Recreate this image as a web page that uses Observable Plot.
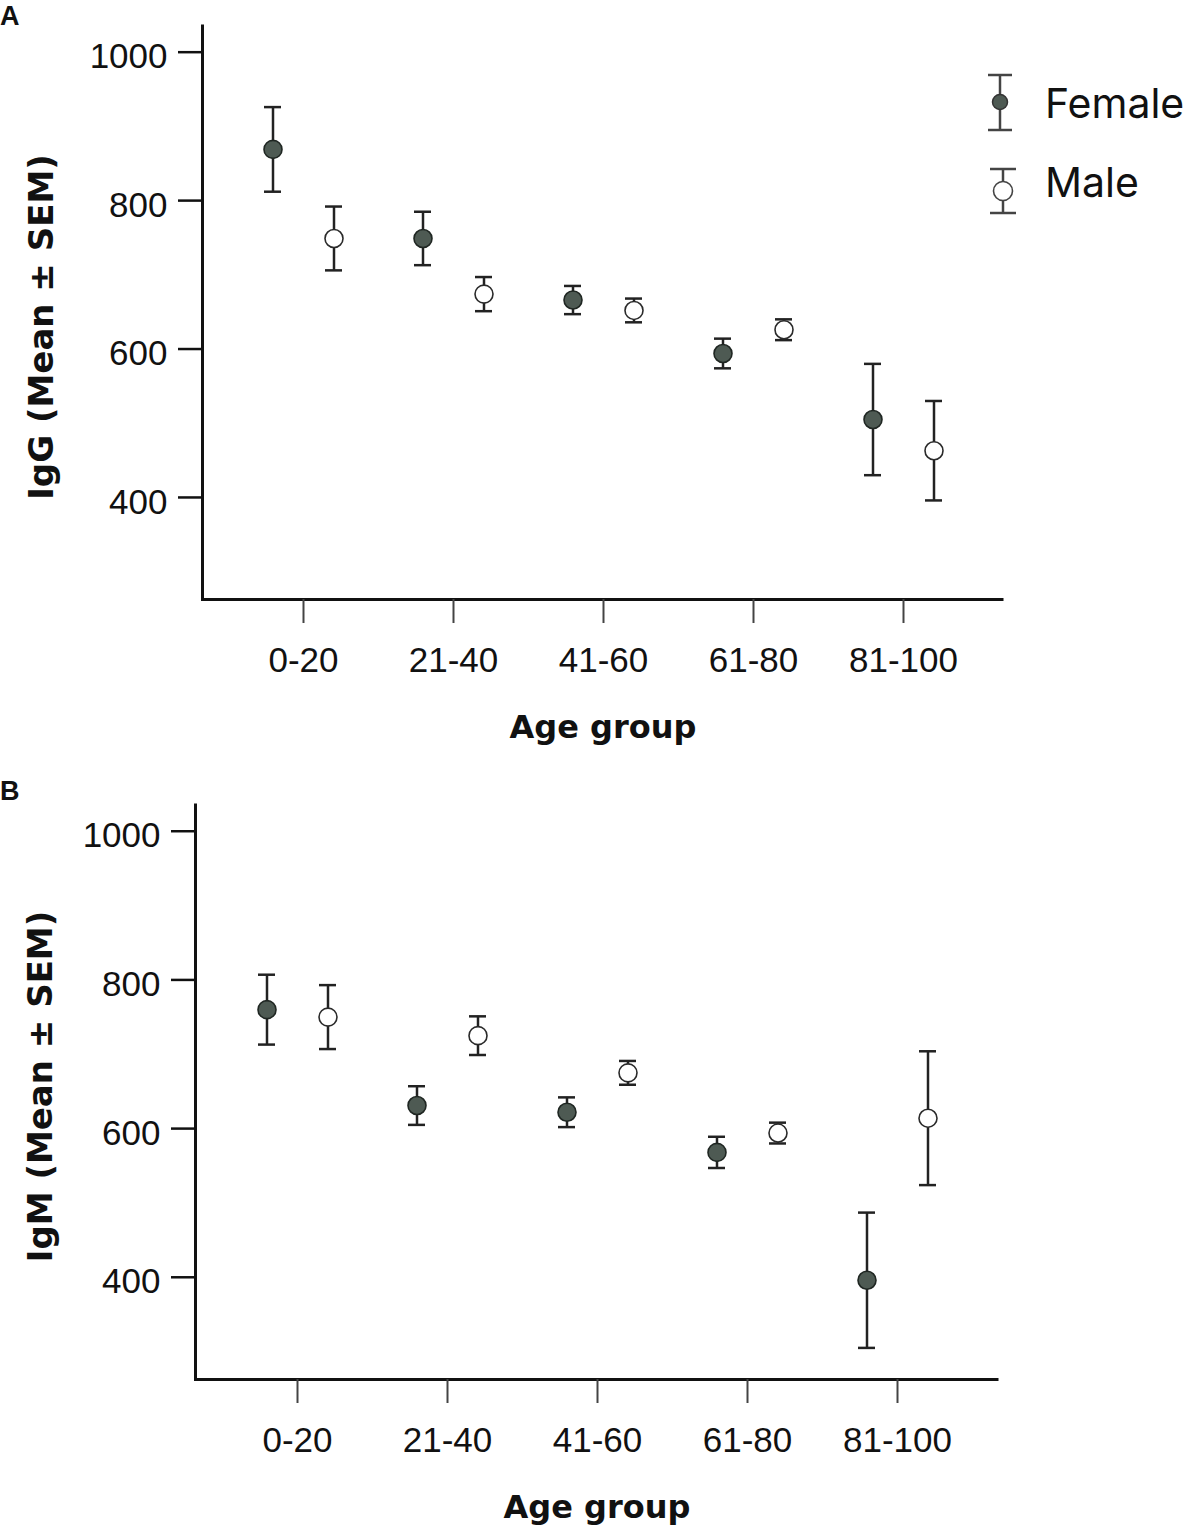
<!DOCTYPE html>
<html><head><meta charset="utf-8">
<script src="https://cdn.jsdelivr.net/npm/d3@7"></script>
<script src="https://cdn.jsdelivr.net/npm/@observablehq/plot@0.6"></script>
<style>
html,body{margin:0;padding:0;background:#fff;}
#wrap{position:relative;width:1196px;height:1534px;overflow:hidden;background:#fff;}
.panel{position:absolute;left:0;}
#overlay{position:absolute;left:0;top:0;pointer-events:none;}
</style></head>
<body><div id="wrap"></div>
<script>
// ---- data ----
const ageGroups = ["0-20", "21-40", "41-60", "61-80", "81-100"];
const sexes = ["Female", "Male"];
const yTicks = [400, 600, 800, 1000];

const iggFemaleMean = [869, 749, 666, 594, 505];
const iggFemaleSem  = [57, 36, 19, 20, 75];
const iggMaleMean   = [749, 674, 652, 626, 463];
const iggMaleSem    = [43, 23, 16, 14, 67];

const igmFemaleMean = [760, 631, 622, 568, 396];
const igmFemaleSem  = [47, 26, 20, 21, 91];
const igmMaleMean   = [750, 725, 675, 594, 614];
const igmMaleSem    = [43, 26, 16, 14, 90];

const yDomain = [262.5, 1037.3];

// ---- drawing ----
const W = 1196;
const femaleFill = "#4e5a53", femaleStroke = "#1f2622";
const maleFill = "#ffffff", maleStroke = "#2a2a2a";
const barColor = "#222";

function panel(o) {
  const rows = ageGroups.flatMap((age, i) => [
    {age, sex: sexes[0], mean: o.female[i], sem: o.femaleSem[i]},
    {age, sex: sexes[1], mean: o.male[i], sem: o.maleSem[i]}
  ]);
  const frameW = W - o.marginLeft - o.marginRight;
  const frameH = o.height - o.marginTop - o.marginBottom;
  const step = 150;
  const po = (frameW / step - ageGroups.length) / 2;
  const off = 30.5, capHalf = 8.5;
  const inset = step / 2 - capHalf;
  const marks = [];
  for (const [sex, dx, fill, stroke] of [[sexes[0], -off, femaleFill, femaleStroke], [sexes[1], off, maleFill, maleStroke]]) {
    const d = rows.filter(r => r.sex === sex);
    marks.push(Plot.ruleX(d, {x: "age", y1: r => r.mean - r.sem, y2: r => r.mean + r.sem, dx, stroke: barColor, strokeWidth: 2.5}));
    marks.push(Plot.tickY(d, {x: "age", y: r => r.mean + r.sem, dx, insetLeft: inset, insetRight: inset, stroke: barColor, strokeWidth: 2.5}));
    marks.push(Plot.tickY(d, {x: "age", y: r => r.mean - r.sem, dx, insetLeft: inset, insetRight: inset, stroke: barColor, strokeWidth: 2.5}));
    marks.push(Plot.dot(d, {x: "age", y: "mean", dx, r: 9, fill, stroke, strokeWidth: 1.6}));
  }
  const chart = Plot.plot({
    width: W,
    height: o.height,
    marginLeft: o.marginLeft,
    marginRight: o.marginRight,
    marginTop: o.marginTop,
    marginBottom: o.marginBottom,
    style: {background: "#fff", overflow: "visible", fontFamily: "'Liberation Sans', Arial, sans-serif"},
    x: {type: "band", domain: ageGroups, paddingInner: 0, paddingOuter: po, align: 0.5},
    y: {domain: yDomain},
    marks: [
      Plot.frame({stroke: "#111", strokeWidth: 3, strokeDasharray: `0 ${frameW + frameH} ${frameW + frameH + 4}`}),
      Plot.axisY({ticks: yTicks, tickSize: 24, tickFormat: () => "", stroke: "#111", strokeWidth: 2.5, label: null}),
      Plot.axisY({ticks: yTicks, tickSize: 0, tickPadding: 35, dy: 5, fontSize: 35, tickFormat: d => String(d), fill: "#111", label: null}),
      Plot.axisX({tickSize: 24, tickPadding: 24, fontSize: 35, stroke: "#444", strokeWidth: 2, fill: "#111", label: null}),
      Plot.text([o.yLabel], {text: d => d, frameAnchor: "left", rotate: -90, lineAnchor: "top", textAnchor: "middle",
        dx: o.yLabelDx, dy: o.yLabelDy, fontSize: 34, fontWeight: "bold", fontFamily: "DejaVu Sans", fill: "#111"}),
      Plot.text(["Age group"], {text: d => d, frameAnchor: "bottom", lineAnchor: "bottom", dy: 138,
        fontSize: 32, fontWeight: "bold", fontFamily: "DejaVu Sans", fill: "#111"}),
      ...marks
    ]
  });
  chart.classList.add("panel");
  chart.style.top = o.top + "px";
  return chart;
}

const wrap = document.getElementById("wrap");
wrap.appendChild(panel({
  top: 0, height: 780, marginLeft: 202, marginRight: 193, marginTop: 24, marginBottom: 181,
  female: iggFemaleMean, femaleSem: iggFemaleSem, male: iggMaleMean, maleSem: iggMaleSem,
  yLabel: "IgG (Mean ± SEM)", yLabelDx: -174, yLabelDy: 15
}));
wrap.appendChild(panel({
  top: 780, height: 754, marginLeft: 195, marginRight: 198, marginTop: 23, marginBottom: 155,
  female: igmFemaleMean, femaleSem: igmFemaleSem, male: igmMaleMean, maleSem: igmMaleSem,
  yLabel: "IgM (Mean ± SEM)", yLabelDx: -168, yLabelDy: -5
}));

// ---- legend and panel letters ----
const ns = "http://www.w3.org/2000/svg";
const ov = document.createElementNS(ns, "svg");
ov.setAttribute("id", "overlay");
ov.setAttribute("width", W);
ov.setAttribute("height", 1534);
ov.innerHTML = `
  <text x="0" y="25" font-family="Liberation Sans, Arial, sans-serif" font-weight="bold" font-size="27" fill="#111">A</text>
  <text x="0" y="800" font-family="Liberation Sans, Arial, sans-serif" font-weight="bold" font-size="27" fill="#111">B</text>
  <g stroke="#444" stroke-width="2.5">
    <line x1="1000" x2="1000" y1="75" y2="130"/>
    <line x1="988" x2="1012" y1="75" y2="75"/>
    <line x1="988" x2="1012" y1="130" y2="130"/>
    <line x1="1003" x2="1003" y1="169" y2="213"/>
    <line x1="990" x2="1016" y1="169" y2="169"/>
    <line x1="990" x2="1016" y1="213" y2="213"/>
  </g>
  <circle cx="1000" cy="102" r="7.5" fill="${femaleFill}" stroke="#333" stroke-width="1.5"/>
  <circle cx="1003" cy="191" r="9.5" fill="#fff" stroke="#444" stroke-width="1.6"/>
  <text x="1045" y="118" font-family="Inter, 'Noto Sans', sans-serif" font-size="41" fill="#111">${sexes[0]}</text>
  <text x="1045" y="197" font-family="Inter, 'Noto Sans', sans-serif" font-size="41" fill="#111">${sexes[1]}</text>
`;
wrap.appendChild(ov);
</script>
</body></html>
